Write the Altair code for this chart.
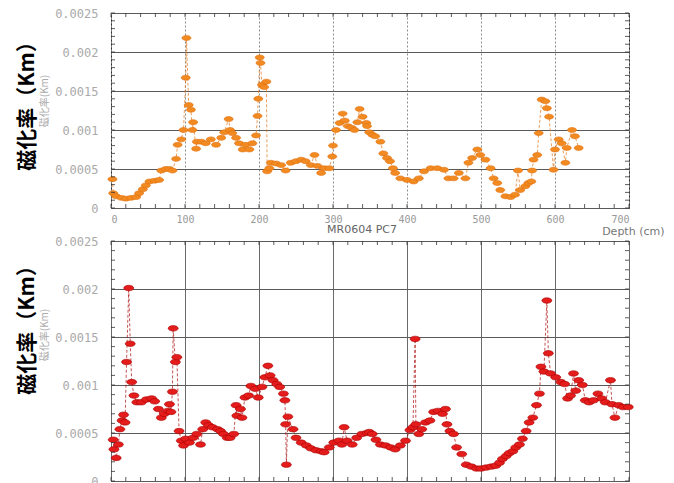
import altair as alt
import pandas as pd

# ---------------- data ----------------
top_depth = [2, 3, 7, 14, 20, 27, 34, 38, 43, 47, 52, 59, 65, 68, 74, 79, 83, 88, 90, 95,
             98, 101, 102, 105, 108, 110, 111, 115, 116, 122, 128, 135, 142, 149, 153, 159, 161, 164, 169, 173,
             178, 182, 187, 191, 196, 198, 199, 201, 202, 204, 207, 210, 211, 214, 216, 223, 230, 236, 243, 250,
             257, 263, 270, 275, 279, 284, 288, 295, 299, 300, 304, 309, 313, 316, 320, 325, 329, 333, 336, 340,
             345, 346, 349, 353, 357, 364, 368, 373, 377, 381, 384, 391, 400, 409, 416, 423, 432, 441, 450, 456,
             463, 470, 479, 483, 488, 495, 499, 506, 513, 517, 522, 526, 533, 540, 546, 550, 553, 560, 564, 568,
             569, 571, 576, 578, 582, 587, 589, 592, 598, 600, 605, 609, 614, 616, 623, 627, 632]
top_value = [0.00037, 0.00019, 0.00015, 0.00013, 0.00012, 0.00013, 0.00014, 0.00019, 0.00024, 0.00029,
             0.00034, 0.00035, 0.00036, 0.00048, 0.0005, 0.0005, 0.00048, 0.00063, 0.00081, 0.00088,
             0.001, 0.00167, 0.00218, 0.00132, 0.00126, 0.001, 0.0011, 0.00076, 0.00085, 0.00085,
             0.00083, 0.00088, 0.00081, 0.0009, 0.00097, 0.00114, 0.001, 0.00096, 0.0009, 0.00083,
             0.00075, 0.00081, 0.00075, 0.00083, 0.00093, 0.00118, 0.0014, 0.00193, 0.00186, 0.00158,
             0.00155, 0.00162, 0.00047, 0.00051, 0.00058, 0.00057, 0.00055, 0.00048, 0.00058, 0.0006,
             0.00062, 0.0006, 0.00055, 0.00068, 0.00054, 0.00045, 0.00051, 0.00051, 0.00066, 0.0008,
             0.001, 0.00109, 0.00121, 0.00112, 0.00105, 0.00103, 0.001, 0.0011, 0.00127, 0.00117,
             0.00109, 0.00105, 0.00097, 0.00094, 0.00092, 0.00085, 0.0007, 0.00064, 0.0006, 0.00051,
             0.00045, 0.00038, 0.00036, 0.00034, 0.00038, 0.00047, 0.00051, 0.00051, 0.00049, 0.00038,
             0.00038, 0.00045, 0.00038, 0.00058, 0.00064, 0.00075, 0.00068, 0.00062, 0.00051, 0.00038,
             0.00032, 0.00023, 0.00015, 0.00014, 0.00017, 0.00048, 0.00023, 0.00028, 0.00032, 0.00034,
             0.00048, 0.00062, 0.00068, 0.00096, 0.00139, 0.00137, 0.00128, 0.00117, 0.00049, 0.00075,
             0.00088, 0.00083, 0.00058, 0.00077, 0.001, 0.00092, 0.00077]

bot_depth = [3, 4, 7, 10, 12, 15, 17, 19, 21, 24, 26, 28, 31, 35, 41, 48, 55, 59, 64, 68,
             72, 77, 79, 81, 83, 84, 87, 89, 92, 95, 98, 101, 106, 111, 116, 121, 124, 128, 132, 137,
             144, 148, 152, 157, 161, 166, 169, 170, 175, 177, 181, 186, 189, 195, 199, 204, 208, 212, 215, 219,
             224, 228, 233, 235, 236, 237, 239, 246, 250, 257, 264, 270, 277, 284, 288, 295, 301, 308, 312, 315,
             319, 326, 332, 339, 346, 349, 353, 358, 364, 371, 378, 384, 391, 398, 404, 408, 411, 412, 416, 420,
             425, 431, 436, 442, 448, 452, 454, 458, 463, 467, 474, 480, 487, 494, 500, 507, 514, 520, 525, 529,
             534, 538, 543, 547, 552, 556, 561, 565, 570, 575, 579, 581, 585, 589, 591, 594, 601, 608, 613, 617,
             621, 625, 628, 632, 637, 641, 646, 652, 658, 663, 668, 675, 677, 681, 686, 692, 699]
bot_value = [0.00043, 0.00033, 0.00024, 0.00038, 0.00054, 0.00063, 0.00069, 0.00061, 0.00124, 0.00201,
             0.00143, 0.00103, 0.00089, 0.00082, 0.00082, 0.00085, 0.00086, 0.00083, 0.00075, 0.00066,
             0.0007, 0.00073, 0.0008, 0.00072, 0.00093, 0.00159, 0.00124, 0.00129, 0.00052, 0.00042,
             0.00037, 0.00044, 0.0004, 0.00045, 0.00049, 0.00038, 0.00054, 0.00061, 0.00058, 0.00056,
             0.00054, 0.00052, 0.00049, 0.00045, 0.00045, 0.00049, 0.00079, 0.00068, 0.00075, 0.00066,
             0.00087, 0.00089, 0.00099, 0.00096, 0.00087, 0.00098, 0.00108, 0.0012, 0.0011, 0.00105,
             0.00101, 0.00098, 0.00091, 0.00084, 0.00059, 0.00017, 0.00067, 0.00054, 0.00045, 0.0004,
             0.00037, 0.00034, 0.00032, 0.00031, 0.0003, 0.00035, 0.0004, 0.00042, 0.00038, 0.00056,
             0.00042, 0.00038, 0.00045, 0.00049, 0.0005, 0.00051, 0.00049, 0.00043, 0.00038, 0.00037,
             0.00035, 0.00033, 0.00037, 0.00042, 0.00053, 0.00056, 0.00148, 0.00059, 0.00049, 0.00054,
             0.00061, 0.00063, 0.00072, 0.00073, 0.0007, 0.00075, 0.00059, 0.00052, 0.00049, 0.00035,
             0.00028, 0.00017, 0.00015, 0.00013, 0.00013, 0.00014, 0.00015, 0.00016, 0.00019, 0.00023,
             0.00026, 0.00029, 0.00031, 0.00035, 0.00038, 0.00044, 0.00052, 0.00061, 0.00066, 0.00079,
             0.00091, 0.00119, 0.00114, 0.00188, 0.00133, 0.00112, 0.00108, 0.00103, 0.00101, 0.00086,
             0.00089, 0.00112, 0.00094, 0.00105, 0.001, 0.00084, 0.00082, 0.00084, 0.00091, 0.00086,
             0.00082, 0.00105, 0.0008, 0.00066, 0.00079, 0.00077, 0.00077]

x_major = [0, 100, 200, 300, 400, 500, 600, 700]
y_major = [0, 0.0005, 0.001, 0.0015, 0.002, 0.0025]
x_minor = list(range(0, 701, 20))
y_minor = [round(i * 0.0001, 4) for i in range(26)]

big_label = "磁化率（Km）"
small_label = "磁化率(Km)"
x_title = "Depth (cm)"
bottom_title = "MR0604 PC7"

# ---------------- chart ----------------
W = 518
XS = alt.Scale(domain=[0, 700], nice=False, zero=False)
YS = alt.Scale(domain=[0, 0.0025], nice=False)
ELLIPSE = "M -1 0 A 1 0.55 0 1 1 1 0 A 1 0.55 0 1 1 -1 0 Z"


def panel(depth, value, H, fill, stroke, size, xdash, xgrid_color, xaxis_title, big_y, small_y, extra_text):
    df = pd.DataFrame({"depth": depth, "value": value})
    xaxis_kwargs = dict(values=x_major, grid=True, gridDash=xdash, gridColor=xgrid_color, gridWidth=1,
                        ticks=False, domain=False, labelFont="DejaVu Sans Mono", labelFontSize=10,
                        labelColor="#999999", labelPadding=6)
    if xaxis_title:
        xaxis_kwargs.update(title=xaxis_title, titleX=553, titleY=17, titleAlign="right",
                            titleBaseline="top", titleFont="DejaVu Sans", titleFontSize=11,
                            titleFontWeight="normal", titleColor="#777777")
    else:
        xaxis_kwargs.update(title=None)
    XAX = alt.Axis(**xaxis_kwargs)
    YAX = alt.Axis(values=y_major, format="~g", grid=True, gridColor="#5a5a5a", gridWidth=1,
                   ticks=False, domain=False, labelFont="DejaVu Sans Mono", labelFontSize=12,
                   labelColor="#aaaaaa", labelPadding=13, title=None)
    x = alt.X("depth:Q", scale=XS, axis=XAX)
    y = alt.Y("value:Q", scale=YS, axis=YAX)
    base = alt.Chart(df).encode(x=x, y=y)
    line = base.mark_line(strokeDash=[3, 2], strokeWidth=0.8, color=stroke, opacity=0.85)
    pts = base.mark_point(shape=ELLIPSE, filled=True, fill=fill, stroke=stroke, strokeWidth=0.6,
                          size=size, opacity=1)

    xt = pd.DataFrame({"depth": x_minor})
    yt = pd.DataFrame({"value": y_minor})
    rule = dict(color="#333333", strokeWidth=0.8)
    tick_b = alt.Chart(xt).mark_rule(**rule).encode(x=x, y=alt.value(H - 4), y2=alt.value(H))
    tick_t = alt.Chart(xt).mark_rule(**rule).encode(x=x, y=alt.value(0), y2=alt.value(4))
    tick_l = alt.Chart(yt).mark_rule(**rule).encode(y=y, x=alt.value(0), x2=alt.value(4))
    tick_r = alt.Chart(yt).mark_rule(**rule).encode(y=y, x=alt.value(W - 4), x2=alt.value(W))

    small = alt.Chart(pd.DataFrame({"s": [small_label]})).mark_text(
        angle=270, font="Noto Sans CJK JP", fontSize=10, color="#aaaaaa", align="center", baseline="middle"
    ).encode(text="s:N", x=alt.value(-66), y=alt.value(small_y))
    big = alt.Chart(pd.DataFrame({"s": [big_label]})).mark_text(
        angle=270, font="Noto Sans CJK JP", fontSize=21, fontWeight="bold", color="black",
        align="center", baseline="middle"
    ).encode(text="s:N", x=alt.value(-83), y=alt.value(big_y))

    layers = [line, pts, tick_b, tick_t, tick_l, tick_r, small, big]
    if extra_text:
        layers.append(
            alt.Chart(pd.DataFrame({"s": [extra_text]})).mark_text(
                font="DejaVu Sans", fontSize=11, color="#666666", align="center", baseline="middle"
            ).encode(text="s:N", x=alt.value(251), y=alt.value(H + 22))
        )
    return alt.layer(*layers).properties(width=W, height=H)


top = panel(top_depth, top_value, 195, "#f28a22", "#e06f0c", 81, [2, 2], "#8c8c8c",
            x_title, 88, 88, bottom_title)
bottom = panel(bot_depth, bot_value, 240, "#e41c1c", "#a80000", 100, [], "#6a6a6a",
               None, 84, 94, None)

chart = alt.vconcat(top, bottom, spacing=-3).properties(
    padding={"left": 8, "top": -2, "right": 0, "bottom": 0},
    background="white",
).configure_view(stroke="#333333", strokeWidth=1)

chart.save("out.html", embed_options={"renderer": "svg", "actions": False})
